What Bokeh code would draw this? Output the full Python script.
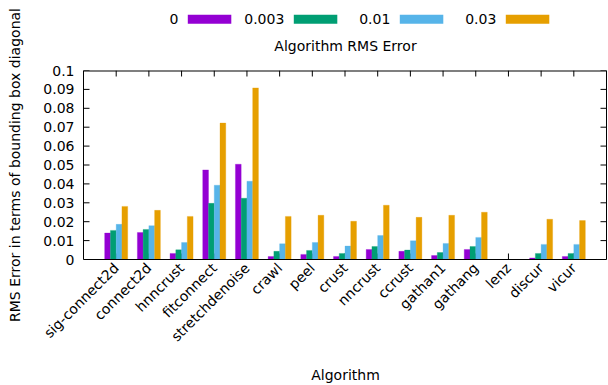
import math
from bokeh.plotting import figure
from bokeh.layouts import row, column
from bokeh.models import Range1d, FixedTicker, LinearAxis, CustomJSTickFormatter
from bokeh.core.properties import value
from bokeh.embed import file_html
from bokeh.resources import INLINE

# ---------------- data ----------------
algorithms = ["sig-connect2d", "connect2d", "hnncrust", "fitconnect", "stretchdenoise",
              "crawl", "peel", "crust", "nncrust", "ccrust", "gathan1", "gathang",
              "lenz", "discur", "vicur"]
noise_levels = ["0", "0.003", "0.01", "0.03"]
nan = float("nan")
err_0 = [0.0140, 0.0143, 0.0032, 0.0474, 0.0504, 0.0016, 0.0027, 0.0016, 0.0053,
         0.0043, 0.0021, 0.0053, nan, 0.0008, 0.0016]
err_0003 = [0.0154, 0.0159, 0.0051, 0.0297, 0.0324, 0.0043, 0.0048, 0.0032, 0.0069,
            0.0050, 0.0037, 0.0069, nan, 0.0032, 0.0032]
err_001 = [0.0186, 0.0179, 0.0090, 0.0393, 0.0414, 0.0083, 0.0090, 0.0071, 0.0127,
           0.0099, 0.0085, 0.0117, nan, 0.0080, 0.0080]
err_003 = [0.0281, 0.0260, 0.0228, 0.0722, 0.0908, 0.0228, 0.0234, 0.0202, 0.0287,
           0.0223, 0.0234, 0.0250, nan, 0.0213, 0.0206]
y_ticks = [0, 0.01, 0.02, 0.03, 0.04, 0.05, 0.06, 0.07, 0.08, 0.09, 0.1]
y_tick_labels = ["0", "0.01", "0.02", "0.03", "0.04", "0.05", "0.06", "0.07", "0.08", "0.09", "0.1"]
x_title = "Algorithm"
y_title = "RMS Error in terms of bounding box diagonal"
legend_title = "Algorithm RMS Error"

series = [err_0, err_0003, err_001, err_003]
colors = ["#9400d3", "#009e73", "#56b4e9", "#e69f00"]

FONT = "DejaVu Sans"
FS = "14px"
TXT = dict(text_font=value(FONT), text_font_size=value(FS), text_color="black",
           text_baseline="middle")


def blank_fig(w, h, xr, yr):
    f = figure(width=w, height=h, x_range=xr, y_range=yr, title=None,
               x_axis_location=None, y_axis_location=None, min_border=0,
               output_backend="svg", toolbar_location=None)
    f.grid.visible = False
    f.outline_line_color = None
    return f


# strips share the main frame's horizontal extent (page px 83..606)
FRAME_X = (83, 606)

# ---------------- y title strip (left) ----------------
T = blank_fig(28, 385, Range1d(0, 28), Range1d(385, 0))
T.text(x=[14], y=[164.5], text=[y_title], angle=math.pi / 2, text_align="center", **TXT)

# ---------------- legend strip (top) ----------------
L = blank_fig(580, 60, Range1d(*FRAME_X), Range1d(60, 0))
leg_x = [187.3 + 106 * k for k in range(len(noise_levels))]
leg_y = 18.7
L.quad(left=leg_x, right=[x + 43.5 for x in leg_x],
       top=[leg_y - 4.5] * len(leg_x), bottom=[leg_y + 4.5] * len(leg_x),
       fill_color=colors, line_color=None)
L.text(x=[x - 9.5 for x in leg_x], y=[leg_y] * len(leg_x), text=noise_levels,
       text_align="right", **TXT)
L.text(x=[345], y=[45], text=[legend_title], text_align="center", **TXT)

# ---------------- main chart ----------------
FW, FH = 523, 189
x0, x1 = -1, 15
y0, y1 = 0, 0.1
M = figure(frame_width=FW, frame_height=FH, title=None,
           min_border_left=55, min_border_right=2, min_border_top=10, min_border_bottom=101,
           x_range=Range1d(x0, x1), y_range=Range1d(y0, y1),
           output_backend="svg", toolbar_location=None)
M.grid.visible = False
M.outline_line_color = None

px_x = (x1 - x0) / FW
px_y = (y1 - y0) / FH
cats = list(range(len(algorithms)))
TL = 6  # tick length in px

# inward tick marks (gnuplot style, mirrored on all sides) and top border
M.segment(x0=cats, y0=[y0] * len(cats), x1=cats, y1=[y0 + TL * px_y] * len(cats),
          line_color="black", line_width=1)
M.segment(x0=cats, y0=[y1] * len(cats), x1=cats, y1=[y1 - TL * px_y] * len(cats),
          line_color="black", line_width=1)
M.segment(x0=[x0] * len(y_ticks), y0=y_ticks, x1=[x0 + TL * px_x] * len(y_ticks), y1=y_ticks,
          line_color="black", line_width=1)
M.segment(x0=[x1] * len(y_ticks), y0=y_ticks, x1=[x1 - TL * px_x] * len(y_ticks), y1=y_ticks,
          line_color="black", line_width=1)
M.segment(x0=[x0], y0=[y1], x1=[x1], y1=[y1], line_color="black", line_width=2)

# bars
bw = 0.176
n = len(series)
for k, (vals, col) in enumerate(zip(series, colors)):
    xs = [i + (k - (n - 1) / 2) * bw for i in cats]
    M.vbar(x=xs, top=vals, bottom=0, width=bw, fill_color=col, line_color=col,
           line_width=0.5, line_alpha=0.6)


def style_axis(ax):
    ax.major_tick_in = 0
    ax.major_tick_out = 0
    ax.minor_tick_line_color = None
    ax.axis_line_color = "black"
    ax.major_label_text_font = FONT
    ax.major_label_text_font_size = FS
    ax.major_label_text_color = "black"


xa = M.xaxis[0]
style_axis(xa)
xa.ticker = FixedTicker(ticks=cats)
xa.major_label_overrides = {i: a for i, a in enumerate(algorithms)}
xa.major_label_orientation = math.pi / 4
xa.major_label_standoff = 6

ya = M.yaxis[0]
style_axis(ya)
ya.ticker = FixedTicker(ticks=y_ticks)
ya.major_label_overrides = {t: l for t, l in zip(y_ticks, y_tick_labels)}
ya.major_label_standoff = 9

right_ax = LinearAxis(ticker=FixedTicker(ticks=y_ticks),
                      formatter=CustomJSTickFormatter(code="return ''"), major_label_standoff=0)
style_axis(right_ax)
M.add_layout(right_ax, "right")

# ---------------- x title strip (bottom) ----------------
B = blank_fig(580, 25, Range1d(*FRAME_X), Range1d(385, 360))
B.text(x=[345], y=[374], text=[x_title], text_align="center", **TXT)

layout = row(T, column(L, M, B))
open("out.html", "w").write(file_html(layout, INLINE))
